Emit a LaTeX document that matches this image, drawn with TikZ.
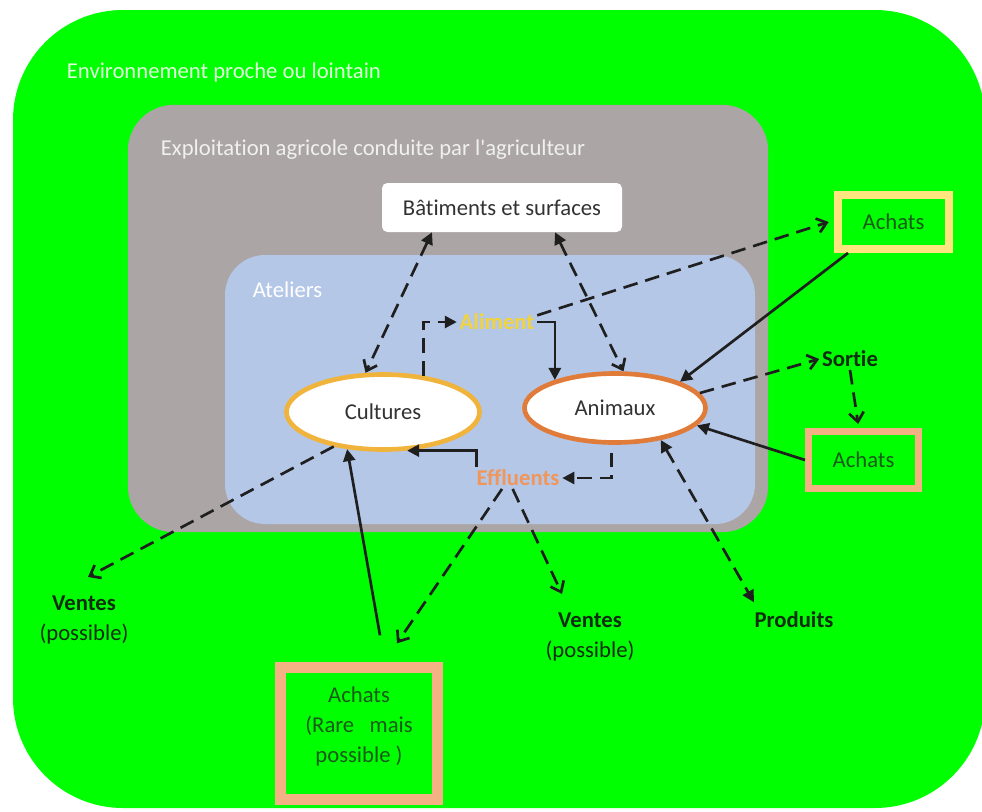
\documentclass[tikz,border=0pt]{standalone}
\usepackage{fontspec}
\setmainfont{Carlito}
\newfontfamily\calib{Carlito}[Ligatures=NoCommon]
\usetikzlibrary{arrows.meta,shapes.geometric}

\definecolor{envgreen}{RGB}{0,255,0}
\definecolor{farmgrey}{RGB}{171,165,165}
\definecolor{workblue}{RGB}{180,199,231}
\definecolor{envtext}{RGB}{225,255,220}
\definecolor{cropring}{RGB}{240,180,60}
\definecolor{animring}{RGB}{224,123,57}
\definecolor{feedtext}{RGB}{242,211,60}
\definecolor{manuretext}{RGB}{240,150,90}
\definecolor{buyyellow}{RGB}{255,229,127}
\definecolor{buysalmon}{RGB}{244,177,131}
\definecolor{buytext}{RGB}{25,90,25}
\definecolor{outtext}{RGB}{15,45,15}
\definecolor{inktext}{RGB}{50,50,50}

\tikzset{
  txt/.style={font=\calib\fontsize{17pt}{22.5pt}\selectfont, inner sep=2pt},
  boldtxt/.style={font=\calib\fontsize{17pt}{22.5pt}\selectfont\bfseries, inner sep=2pt},
  outlbl/.style={txt, text=outtext, align=center},
  buybox/.style={draw, txt, text=buytext, inner sep=0pt},
  ring/.style={ellipse, draw, fill=white, txt, text=inktext, inner sep=0pt},
  conn/.style={line width=2pt, draw=black!88},
  dsh/.style={conn, dash pattern=on 11pt off 6pt},
  barb/.style={-{Straight Barb[length=7pt,width=11pt]}},
  tri/.style={-{Triangle[length=9pt,width=9pt]}},
  tritri/.style={{Triangle[length=9pt,width=9pt]}-{Triangle[length=9pt,width=9pt]}},
  tribarb/.style={{Triangle[length=9pt,width=9pt]}-{Straight Barb[length=7pt,width=11pt]}},
}

\begin{document}
\begin{tikzpicture}[x=0.75pt,y=-0.75pt]
\useasboundingbox (0,0) rectangle (982,811);

% nested regions: environment, farm, workshops
\fill[envgreen, rounded corners=82.5pt] (499,10) -| (985,808) -| (13,10) -- cycle;
\filldraw[fill=farmgrey, draw=farmgrey, line width=1pt, rounded corners=34pt] (448,105.5) -| (767.5,531.5) -| (128.5,105.5) -- cycle;
\fill[workblue, rounded corners=30pt] (490,255) -| (755,524) -| (225,255) -- cycle;

\node[txt, text=envtext, anchor=west] (envlbl) at (64,72) {Environnement proche ou lointain};
\node[txt, text=white!94!black, anchor=west] (farmlbl) at (158,150) {Exploitation agricole conduite par l'agriculteur};
\node[txt, text=white, anchor=west] (worklbl) at (250,290) {Ateliers};

% main blocks
\node[txt, fill=white, text=inktext, rounded corners=4pt, minimum width=180pt, minimum height=36.75pt, inner sep=0pt] (bat) at (502,207.5) {Bâtiments et surfaces};
\node[ring, draw=cropring, line width=3.5pt, minimum width=144.75pt, minimum height=56.25pt] (cult) at (383,412) {Cultures};
\node[ring, draw=animring, line width=3.5pt, minimum width=135.75pt, minimum height=51.75pt] (anim) at (615,408) {Animaux};

\node[boldtxt, text=feedtext] (feed) at (497,322) {Aliment};
\node[boldtxt, text=manuretext] (effl) at (518,478) {Effluents};

% purchases and outlets
\node[buybox, draw=buyyellow, line width=6pt, minimum width=83.25pt, minimum height=40.5pt] (buytop) at (893.5,222) {Achats};
\node[boldtxt, text=outtext] (exit) at (850,359) {Sortie};
\node[buybox, draw=buysalmon, line width=5.25pt, minimum width=82.5pt, minimum height=42.75pt] (buymid) at (863.5,460) {Achats};
\node[buybox, draw=buysalmon, line width=8.25pt, minimum width=117.75pt, minimum height=99pt] (buylow) at (359,733.5) {};
\node[txt, text=buytext, align=center] (buylowtxt) at (359,726) {Achats\\(Rare\ \ \ mais\\possible\ )};

\node[outlbl] (saleleft) at (84,620) {\textbf{Ventes}\\(possible)};
\node[outlbl] (salemid) at (590,637) {\textbf{Ventes}\\(possible)};
\node[boldtxt, text=outtext] (prod) at (794,620) {Produits};

% flows
\draw[dsh, tribarb] ([xshift=-52.5pt]bat.south) -- (cult.114);
\draw[dsh, tribarb] ([xshift=39.75pt]bat.south) -- (anim.77);
\draw[dsh, tri] (cult.42) |- (feed.west);
\draw[conn, tri] (feed.east) -| (anim.155);
\draw[dsh, barb] ([yshift=5pt]feed.east) -- ([xshift=-4pt]buytop.west);
\draw[conn, tri] ([xshift=10.5pt]buytop.south west) -- (anim.22);
\draw[dsh, barb] (anim.10) -- (exit.west);
\draw[dsh, barb] (exit.south) -- ([xshift=-4pt,yshift=3pt]buymid.north);
\draw[conn, tri] (buymid.west) -- (anim.348);
\draw[dsh, tri] ([yshift=-6pt]anim.265) |- (effl.east);
\draw[conn, tri] ([xshift=2pt]effl.north west) |- (cult.302);
\draw[dsh, barb] (cult.215) -- ([xshift=3pt,yshift=12pt]saleleft.north);
\draw[conn, tri] ([xshift=15.75pt,yshift=20pt]buylow.north) -- (cult.226);
\draw[dsh, barb] ([xshift=-12pt]effl.south) -- ([xshift=28.5pt,yshift=14pt]buylow.north);
\draw[dsh, barb] ([xshift=-4pt]effl.south) -- ([xshift=-21pt,yshift=12pt]salemid.north);
\draw[dsh, tritri] (anim.325) -- ([xshift=-30pt,yshift=5pt]prod.north);
\end{tikzpicture}
\end{document}
